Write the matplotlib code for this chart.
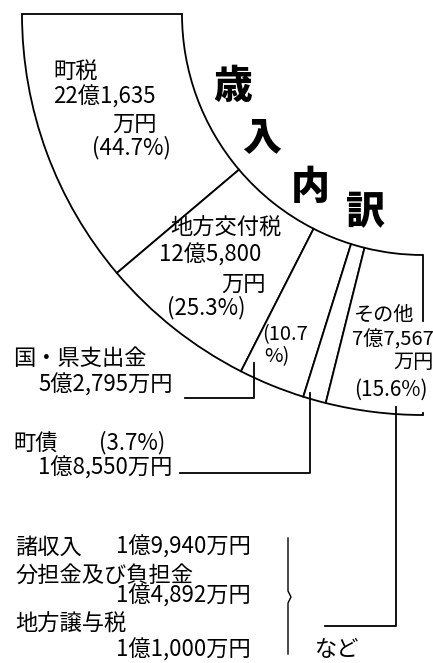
import matplotlib.pyplot as plt

plt.rcParams['font.family'] = ['Noto Sans CJK JP', 'DejaVu Sans']

# 歳入内訳 (percent of total)
categories = ['町税', '地方交付税', '国・県支出金', '町債', 'その他']
shares = [44.7, 25.3, 10.7, 3.7, 15.6]
amounts = ['22億1,635万円', '12億5,800万円', '5億2,795万円', '1億8,550万円', '7億7,567万円']
others = [('諸収入', '1億9,940万円'), ('分担金及び負担金', '1億4,892万円'), ('地方譲与税', '1億1,000万円')]
title = '歳入内訳'

fig = plt.figure(figsize=(4.33, 6.63), dpi=100)
ax = fig.add_axes([0, 0, 1, 1])

# quarter ring: the shares fill 90 degrees, the rest is a hidden wedge
wedges, _ = ax.pie(shares + [3 * sum(shares)], startangle=180, counterclock=False,
                   center=(423, 14), radius=401,
                   wedgeprops=dict(width=160, edgecolor='black', linewidth=1.3, facecolor='white'))
wedges[-1].set_visible(False)

ax.set_xlim(0, 433)
ax.set_ylim(663, 0)
ax.set_aspect('equal')
ax.axis('off')

fs = 16
lw = 1.3

# labels inside the ring
ax.text(53, 72, categories[0], fontsize=fs, va='center', ha='left')
ax.text(53, 97, amounts[0][:-2], fontsize=fs, va='center', ha='left')
ax.text(157, 124, amounts[0][-2:], fontsize=fs, va='center', ha='right')
ax.text(92, 148, f'({shares[0]}%)', fontsize=fs, va='center', ha='left')

ax.text(170, 228, categories[1], fontsize=fs, va='center', ha='left')
ax.text(159, 255, amounts[1][:-2], fontsize=fs, va='center', ha='left')
ax.text(266, 284, amounts[1][-2:], fontsize=fs, va='center', ha='right')
ax.text(167, 308, f'({shares[1]}%)', fontsize=fs, va='center', ha='left')

ax.text(262, 335, f'({shares[2]}', fontsize=fs - 1.5, va='center', ha='left')
ax.text(264, 357, '%)', fontsize=fs - 1.5, va='center', ha='left')

# the right edge of the ring is hidden behind the その他 label
ax.plot([423, 423], [324, 410], color='white', lw=3, zorder=2)
ax.text(354, 315, categories[4], fontsize=fs - 1.5, va='center', ha='left', zorder=3)
ax.text(352, 340, amounts[4][:-2], fontsize=fs - 1.5, va='center', ha='left', zorder=3)
ax.text(434, 363, amounts[4][-2:], fontsize=fs - 1.5, va='center', ha='right', zorder=3)
ax.text(354, 390, f'({shares[4]}%)', fontsize=fs - 1, va='center', ha='left', zorder=3)

# title along the ring
for ch, (x, y) in zip(title, [(233, 86), (262, 137), (310, 187), (365, 212)]):
    ax.text(x, y, ch, fontsize=28, fontweight='heavy', va='center', ha='center')

# 国・県支出金
ax.text(13, 358, categories[2], fontsize=fs, va='center', ha='left')
ax.text(38, 385, amounts[2], fontsize=fs, va='center', ha='left')
ax.plot([185, 254, 254], [398, 398, 363], color='black', lw=lw)

# 町債
ax.text(13, 443, categories[3], fontsize=fs, va='center', ha='left')
ax.text(99, 443, f'({shares[3]}%)', fontsize=fs, va='center', ha='left')
ax.text(38, 468, amounts[3], fontsize=fs, va='center', ha='left')
ax.plot([180, 310, 310], [473, 473, 393], color='black', lw=lw)

# その他
ax.plot([396, 396, 325], [407, 626, 626], color='black', lw=lw)

ax.text(15, 547, others[0][0], fontsize=fs, va='center', ha='left')
ax.text(251, 547, others[0][1], fontsize=fs, va='center', ha='right')
ax.text(15, 575, others[1][0], fontsize=fs, va='center', ha='left')
ax.text(251, 596, others[1][1], fontsize=fs, va='center', ha='right')
ax.text(15, 624, others[2][0], fontsize=fs, va='center', ha='left')
ax.text(251, 650, others[2][1], fontsize=fs, va='center', ha='right')

# brace
ax.plot([288, 288, 291, 288, 288], [538, 591, 597, 603, 654], color='black', lw=1.0)
ax.text(315, 650, 'など', fontsize=fs, va='center', ha='left')

fig.savefig('out.png', dpi=100)
